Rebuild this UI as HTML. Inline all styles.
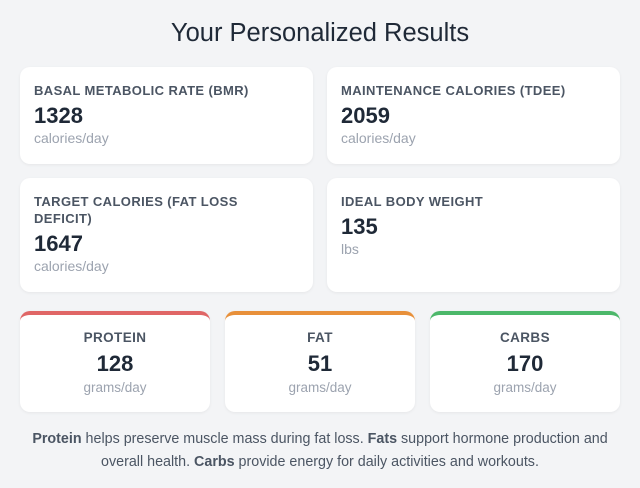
<!DOCTYPE html>
<html><head><style>
*{margin:0;padding:0;box-sizing:border-box}
body{width:640px;height:488px;background:#f3f4f6;font-family:"Liberation Sans",sans-serif;position:relative;overflow:hidden;color:#1f2937}
.t{position:absolute;top:19px;left:0;width:640px;text-align:center;font-size:25.5px;color:#1f2937}
.c{position:absolute;background:#fff;border-radius:10px;box-shadow:0 1px 3px rgba(0,0,0,.06);padding:15px 14px}
.l{font-size:13px;font-weight:bold;color:#4b5563;letter-spacing:.4px;line-height:17px}
.v{font-size:22px;font-weight:bold;color:#1f2937;line-height:26px;margin-top:4px}
.u{font-size:14px;color:#9ca3af;line-height:18px}
.m{position:absolute;top:311px;width:190px;height:101px;background:#fff;border-radius:10px;text-align:center;padding-top:14px;box-shadow:0 1px 3px rgba(0,0,0,.06)}
.m .l{font-size:13.5px}
.m .v{margin-top:5px;font-size:22px}
.m .u{margin-top:2px;font-size:13.5px}
.p{position:absolute;top:428px;left:10px;width:620px;text-align:center;font-size:14.3px;line-height:23px;color:#4b5563}
</style></head><body>
<div class="t">Your Personalized Results</div>
<div class="c" style="left:20px;top:67px;width:293px;height:97px"><div class="l">BASAL METABOLIC RATE (BMR)</div><div class="v">1328</div><div class="u">calories/day</div></div>
<div class="c" style="left:327px;top:67px;width:293px;height:97px"><div class="l">MAINTENANCE CALORIES (TDEE)</div><div class="v">2059</div><div class="u">calories/day</div></div>
<div class="c" style="left:20px;top:178px;width:293px;height:114px"><div class="l">TARGET CALORIES (FAT LOSS<br>DEFICIT)</div><div class="v">1647</div><div class="u">calories/day</div></div>
<div class="c" style="left:327px;top:178px;width:293px;height:114px"><div class="l">IDEAL BODY WEIGHT</div><div class="v">135</div><div class="u">lbs</div></div>
<div class="m" style="left:20px;border-top:4px solid #e06666"><div class="l">PROTEIN</div><div class="v">128</div><div class="u">grams/day</div></div>
<div class="m" style="left:225px;border-top:4px solid #e8903a"><div class="l">FAT</div><div class="v">51</div><div class="u">grams/day</div></div>
<div class="m" style="left:430px;border-top:4px solid #4cb86a"><div class="l">CARBS</div><div class="v">170</div><div class="u">grams/day</div></div>
<div class="p"><b>Protein</b> helps preserve muscle mass during fat loss. <b>Fats</b> support hormone production and<br>overall health. <b>Carbs</b> provide energy for daily activities and workouts.</div>
</body></html>
